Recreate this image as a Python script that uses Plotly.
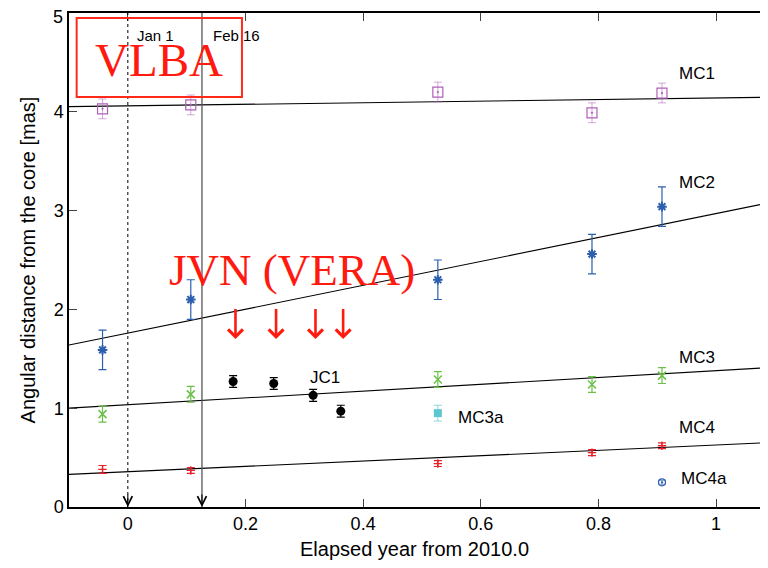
import plotly.graph_objects as go

# ---- data ----
mc1_x = [-0.043, 0.107, 0.527, 0.789, 0.908]
mc1_y = [4.03, 4.07, 4.20, 3.99, 4.19]
mc1_e = [0.10, 0.10, 0.10, 0.10, 0.10]

mc2_x = [-0.043, 0.107, 0.527, 0.789, 0.908]
mc2_y = [1.59, 2.10, 2.30, 2.56, 3.04]
mc2_e = [0.20, 0.20, 0.20, 0.20, 0.20]

mc3_x = [-0.043, 0.107, 0.527, 0.789, 0.908]
mc3_y = [0.94, 1.14, 1.29, 1.24, 1.33]
mc3_e = [0.08, 0.08, 0.08, 0.08, 0.08]

mc3a_x = [0.527]
mc3a_y = [0.95]
mc3a_e = [0.08]

mc4_x = [-0.043, 0.107, 0.527, 0.789, 0.908]
mc4_y = [0.38, 0.37, 0.44, 0.55, 0.62]
mc4_e = [0.04, 0.03, 0.03, 0.03, 0.03]

mc4a_x = [0.908]
mc4a_y = [0.25]
mc4a_e = [0.02]

jc1_x = [0.179, 0.248, 0.315, 0.362]
jc1_y = [1.27, 1.25, 1.13, 0.97]
jc1_e = [0.06, 0.06, 0.06, 0.06]

# linear fits (intercept, slope)
fit_names = ["MC1", "MC2", "MC3", "MC4"]
fit_intercept = [4.06, 1.76, 1.035, 0.357]
fit_slope = [0.08, 1.21, 0.345, 0.27]

epoch_x = [0.0, 46 / 365]
epoch_labels = ["Jan 1", "Feb 16"]

x_ticks = [0, 0.2, 0.4, 0.6, 0.8, 1]
x_tick_labels = ["0", "0.2", "0.4", "0.6", "0.8", "1"]
y_ticks = [0, 1, 2, 3, 4, 5]
y_tick_labels = ["0", "1", "2", "3", "4", "5"]

XR = [-0.1, 1.0746]
YR = [0, 5]

SANS = "Liberation Sans, Arial, sans-serif"
SERIF = "Liberation Serif, Times New Roman, serif"

fig = go.Figure()

# fit lines
for b, m in zip(fit_intercept, fit_slope):
    fig.add_trace(go.Scatter(x=XR, y=[b + m * XR[0], b + m * XR[1]], mode="lines",
                             line=dict(color="black", width=1.1), hoverinfo="skip"))

def pts(x, y, e, color, symbol, size, ecolor=None, lw=1.3, ew=1.2):
    fig.add_trace(go.Scatter(
        x=x, y=y, mode="markers",
        marker=dict(symbol=symbol, size=size, color=color, line=dict(color=color, width=lw)),
        error_y=dict(type="data", array=e, visible=True, color=ecolor or color,
                     thickness=ew, width=4)))

pts(mc1_x, mc1_y, mc1_e, "#b060b8", "square-open-dot", 10, ecolor="rgba(176,96,184,0.55)", lw=1.2, ew=1)
pts(mc2_x, mc2_y, mc2_e, "#2c5fae", "asterisk-open", 8, lw=2)
pts(mc3_x, mc3_y, mc3_e, "#6cc04a", "x-thin-open", 8, lw=1.5)
pts(mc3a_x, mc3a_y, mc3a_e, "#5bc8d0", "square", 8, ecolor="rgba(91,200,208,0.7)", lw=0, ew=1)
pts(mc4_x, mc4_y, mc4_e, "#e8202a", "cross-thin-open", 6, lw=1.3)
pts(mc4a_x, mc4a_y, mc4a_e, "#2c5fae", "circle-open-dot", 7, ecolor="rgba(44,95,174,0.6)", lw=1.2, ew=1)
pts(jc1_x, jc1_y, jc1_e, "black", "circle", 9, lw=0)

shapes = []
annotations = []

# epoch lines
shapes.append(dict(type="line", xref="x", yref="y", x0=epoch_x[0], x1=epoch_x[0], y0=YR[0], y1=YR[1],
                   line=dict(color="black", width=1, dash="dot")))
shapes.append(dict(type="line", xref="x", yref="y", x0=epoch_x[1], x1=epoch_x[1], y0=YR[0], y1=YR[1],
                   line=dict(color="#555555", width=1.3)))
for ex in epoch_x:
    annotations.append(dict(x=ex, y=0, xref="x", yref="y", ax=0, ay=-14, text="",
                            showarrow=True, arrowhead=5, arrowsize=1.6, arrowwidth=1.1,
                            arrowcolor="black"))
annotations.append(dict(x=epoch_x[0] + 0.013, y=4.77, xref="x", yref="y", text=epoch_labels[0],
                        showarrow=False, xanchor="left", font=dict(family=SANS, size=15, color="black")))
annotations.append(dict(x=epoch_x[1] + 0.015, y=4.77, xref="x", yref="y", text=epoch_labels[1],
                        showarrow=False, xanchor="left", font=dict(family=SANS, size=15, color="black")))

# VLBA box
shapes.append(dict(type="rect", xref="x", yref="y", x0=-0.087, x1=0.194, y0=4.15, y1=4.95,
                   line=dict(color="#ff2a1a", width=2)))
annotations.append(dict(x=0.0535, y=4.52, xref="x", yref="y", text="VLBA", showarrow=False,
                        font=dict(family=SERIF, size=47, color="#ff1a10")))
annotations.append(dict(x=0.279, y=2.4, xref="x", yref="y", text="JVN (VERA)", showarrow=False,
                        font=dict(family=SERIF, size=45, color="#ff1a10")))

# red arrows
for ax_ in jc1_x:
    annotations.append(dict(x=ax_ + 0.004, y=1.70, ax=ax_ + 0.004, ay=2.02, xref="x", yref="y",
                            axref="x", ayref="y", text="", showarrow=True, arrowhead=4,
                            arrowsize=1.1, arrowwidth=2.6, arrowcolor="#ff1a10"))

# labels
lab_font = dict(family=SANS, size=17, color="black")
for txt, x, y in [("MC1", 0.968, 4.39), ("MC2", 0.968, 3.28), ("MC3", 0.968, 1.51),
                  ("MC4", 0.968, 0.80), ("MC4a", 0.980, 0.29), ("MC3a", 0.601, 0.91),
                  ("JC1", 0.335, 1.31)]:
    annotations.append(dict(x=x, y=y, xref="x", yref="y", text=txt, showarrow=False, font=lab_font))

# top y tick label (plotly hides it when it touches the figure edge) as plain text
annotations.append(dict(x=0, xref="paper", y=y_ticks[-1], yref="y", xanchor="right", xshift=-4,
                        yanchor="top", yshift=8, text=y_tick_labels[-1], showarrow=False,
                        font=dict(family=SANS, size=18, color="black")))

# the page body adds an 8 px offset; size and margins compensate so the plot area lands
# at x 69..760 and y 13..507 in the window without overflowing it
fig.update_layout(
    width=752, height=552,
    margin=dict(l=61, r=0, t=5, b=53),
    paper_bgcolor="white", plot_bgcolor="white",
    showlegend=False,
    shapes=shapes, annotations=annotations,
    xaxis=dict(range=XR, tickvals=x_ticks, ticktext=x_tick_labels, ticks="inside", ticklen=8,
               tickcolor="#444", showline=True, linecolor="black", linewidth=1.5, mirror="ticks",
               showgrid=False, zeroline=False, automargin=False,
               tickfont=dict(family=SANS, size=18, color="black"),
               title=dict(text="Elapsed year from 2010.0", font=dict(family=SANS, size=20, color="black"),
                          standoff=12)),
    yaxis=dict(range=YR, tickvals=y_ticks[:-1], ticktext=y_tick_labels[:-1], ticks="inside",
               ticklen=8, tickcolor="#444",
               showline=True, linecolor="black", linewidth=1.5, mirror=False,
               showgrid=False, zeroline=False, automargin=False,
               tickfont=dict(family=SANS, size=18, color="black"),
               title=dict(text="Angular distance from the core [mas]",
                          font=dict(family=SANS, size=20, color="black"), standoff=13)),
)

fig.write_html("out.html")
